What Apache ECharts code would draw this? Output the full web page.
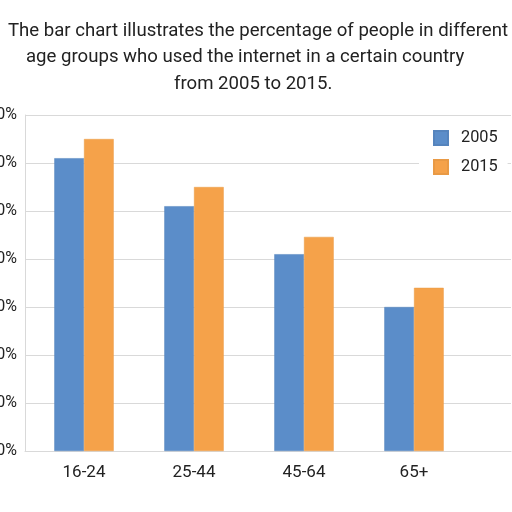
<!DOCTYPE html>
<html lang="en">
<head>
	<meta charset="utf-8" />
	<title>Internet use by age group</title>
	<style type="text/css">
		html,body{margin:0;padding:0;background:#fff;}
		#main{width:512px;height:512px;}
	</style>
</head>
<body>
	<div id="main"></div>
<script src="https://cdn.jsdelivr.net/npm/echarts@6/dist/echarts.min.js"></script>
<script>
	// 数据
	var categories = ['16-24', '25-44', '45-64', '65+'];
	var seriesNames = ['2005', '2015'];
	var values2005 = [61, 51, 41, 30];
	var values2015 = [65, 55, 44.6, 34];
	var yTicks = {min: 0, max: 70, interval: 10};

	var titleLines = [
		'The bar chart illustrates the percentage of people in different',
		'age groups who used the internet in a certain country',
		'from 2005 to 2015.'
	];

	var font = 'Roboto, "Noto Sans", sans-serif';
	var lineColor = '#d9d9d9';
	var titleStyle = {fontSize: 18.6, fontWeight: 'normal', color: '#222', fontFamily: font};

	var chart = echarts.init(document.getElementById('main'));
	chart.setOption({
		backgroundColor: '#fff',
		textStyle: {fontFamily: font},
		title: [
			{text: titleLines[0], left: 8, top: 22, padding: 0, textStyle: titleStyle},
			{text: titleLines[1], left: 26, top: 48, padding: 0, textStyle: titleStyle},
			{text: titleLines[2], left: 174, top: 75, padding: 0, textStyle: titleStyle}
		],
		legend: {
			data: seriesNames,
			orient: 'vertical',
			left: 419,
			top: 124,
			icon: 'rect',
			itemWidth: 14,
			itemHeight: 14,
			itemGap: 13,
			padding: [6, 10, 6, 14],
			backgroundColor: '#fff',
			textStyle: {fontSize: 16.3, color: '#222', fontFamily: font, padding: [0, 0, 0, 8]}
		},
		// grid 0 放柱子，grid 1 只画网格线和坐标轴
		grid: [
			{left: 29, right: 43, top: 115, bottom: 61, outerBoundsMode: 'none'},
			{left: 25, right: 1, top: 115, bottom: 61, outerBoundsMode: 'none'}
		],
		xAxis: [
			{
				type: 'category',
				gridIndex: 0,
				data: categories,
				axisLine: {show: false},
				axisTick: {show: false},
				axisLabel: {fontSize: 17, color: '#222', margin: 13, fontFamily: font}
			},
			{
				type: 'value',
				gridIndex: 1,
				axisLine: {show: true, lineStyle: {color: lineColor, width: 1}},
				axisTick: {show: false},
				axisLabel: {show: false},
				splitLine: {show: false}
			}
		],
		yAxis: [
			{
				type: 'value',
				gridIndex: 0,
				min: yTicks.min, max: yTicks.max, interval: yTicks.interval,
				axisLine: {show: false},
				axisTick: {show: false},
				axisLabel: {show: false},
				splitLine: {show: false}
			},
			{
				type: 'value',
				gridIndex: 1,
				min: yTicks.min, max: yTicks.max, interval: yTicks.interval,
				axisLine: {show: true, lineStyle: {color: lineColor, width: 1}},
				axisTick: {show: false},
				axisLabel: {formatter: '{value}%', fontSize: 16, color: '#222', margin: 8, fontFamily: font},
				splitLine: {show: true, lineStyle: {color: lineColor, width: 1}}
			}
		],
		series: [
			{
				name: seriesNames[0],
				type: 'bar',
				xAxisIndex: 0, yAxisIndex: 0,
				data: values2005,
				barGap: '0%',
				barCategoryGap: '46%',
				itemStyle: {color: '#5b8dc9', borderColor: '#5584bd', borderWidth: 0.5}
			},
			{
				name: seriesNames[1],
				type: 'bar',
				xAxisIndex: 0, yAxisIndex: 0,
				data: values2015,
				itemStyle: {color: '#f5a24a', borderColor: '#e99a45', borderWidth: 0.5}
			}
		]
	});
</script>
</body>
</html>
